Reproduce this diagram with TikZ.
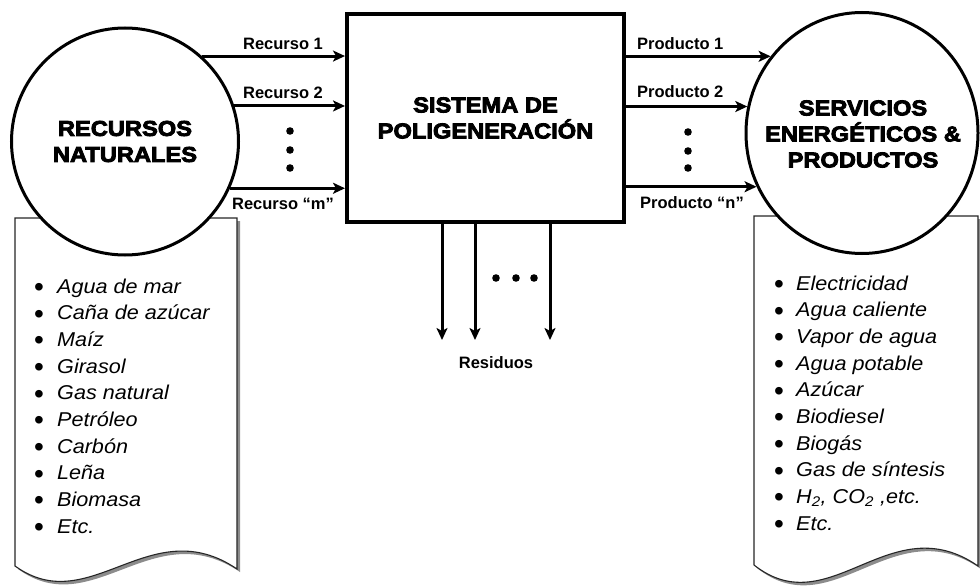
\documentclass[tikz,border=0pt]{standalone}
\usepackage{fontspec}
\setmainfont{Liberation Sans}
\newfontfamily\heavy{Liberation Sans Bold}[FakeStretch=1.1,FakeBold=4]
\newfontfamily\listfont{Liberation Sans}[FakeStretch=1.08]
\usetikzlibrary{arrows.meta,shapes.geometric}
\begin{document}
\begin{tikzpicture}[x=1pt,y=-1pt,
  conn/.style={line width=3pt,-{Stealth[length=12pt,width=11pt,inset=3pt]}},
  banner/.style={draw=black!85,line width=1.1pt,fill=white},
  bshadow/.style={fill=black!45,draw=none},
  title/.style={font=\heavy\fontsize{21.5}{26}\selectfont,align=center,inner sep=0pt},
  lbl/.style={font=\bfseries\fontsize{16.5}{19}\selectfont,inner sep=0pt},
  item/.style={anchor=base west,inner sep=0pt,font=\fontsize{20}{24}\selectfont},
  dot/.style={fill=black}]
\useasboundingbox (0,0) rectangle (980,586);
% banners (shadows then shapes)
\begin{scope}[shift={(3,3)}]
\path[bshadow] (15,218) -- (15,566) .. controls (90,620) and (150,510) .. (237,569) -- (237,218) -- cycle;
\path[bshadow] (754,216) -- (754,565) .. controls (830,625) and (890,505) .. (978,566) -- (978,216) -- cycle;
\end{scope}
\path[banner] (15,218) -- (15,566) .. controls (90,620) and (150,510) .. (237,569) -- (237,218) -- cycle;
\path[banner] (754,216) -- (754,565) .. controls (830,625) and (890,505) .. (978,566) -- (978,216) -- cycle;
% main nodes
\node[circle,draw,fill=white,line width=3pt,minimum size=227pt,inner sep=0pt] (L) at (125,141.5) {};
\node[title] (Lt) at (L.center) {RECURSOS\\NATURALES};
\node[ellipse,draw,fill=white,line width=3pt,minimum width=232pt,minimum height=241pt,inner sep=0pt] (R) at (862,133) {};
\node[title] (Rt) at (863,134) {SERVICIOS\\ENERGÉTICOS \&\\PRODUCTOS};
\node[draw,fill=white,line width=4pt,minimum width=277pt,minimum height=208pt,inner sep=0pt] (S) at (485.5,118) {};
\node[title] (St) at (S.center) {SISTEMA DE\\POLIGENERACIÓN};
% input arrows
\coordinate (l1) at (L.48);
\coordinate (l2) at (L.18);
\coordinate (l3) at (L.-24);
\draw[conn] (l1) -- (l1 -| S.west);
\draw[conn] (l2) -- (l2 -| S.west);
\draw[conn] (l3) -- (l3 -| S.west);
\node[lbl,anchor=base] (rl1) at (283,50) {Recurso 1};
\node[lbl,anchor=base] (rl2) at (283,99) {Recurso 2};
\node[lbl,anchor=base] (rl3) at (283,209) {Recurso “m”};
\fill[dot] (290,131) circle (3.8pt) (290,150) circle (3.8pt) (290,168) circle (3.8pt);
% output arrows
\coordinate (r1) at (R.140);
\coordinate (r2) at (R.167);
\coordinate (r3) at (R.207);
\draw[conn] (S.east |- r1) -- (r1);
\draw[conn] (S.east |- r2) -- (r2);
\draw[conn] (S.east |- r3) -- (r3);
\node[lbl,anchor=base west] (pl1) at (637,49) {Producto 1};
\node[lbl,anchor=base west] (pl2) at (637,97) {Producto 2};
\node[lbl,anchor=base west] (pl3) at (640,208) {Producto “n”};
\fill[dot] (688,132) circle (3.8pt) (688,151) circle (3.8pt) (688,168) circle (3.8pt);
% residues
\coordinate (w1) at (442,340);
\coordinate (w2) at (475,340);
\coordinate (w3) at (550,340);
\draw[conn] (S.south -| w1) -- (w1);
\draw[conn] (S.south -| w2) -- (w2);
\draw[conn] (S.south -| w3) -- (w3);
\fill[dot] (496,278) circle (3.8pt) (516,278) circle (3.8pt) (534,278) circle (3.8pt);
\node[lbl,anchor=base] (res) at (496,368) {Residuos};
% lists
\foreach \t [count=\i] in {Agua de mar, Caña de azúcar, Maíz, Girasol, Gas natural, Petróleo, Carbón, Leña, Biomasa, Etc.} {
  \node[item] (a\i) at (34,{293+26.67*(\i-1)}) {\makebox[23pt][l]{\raisebox{-3.5pt}{\fontsize{28}{24}\selectfont •}}{\listfont\itshape \t}};
}
\foreach \t [count=\i] in {Electricidad, Agua caliente, Vapor de agua, Agua potable, Azúcar, Biodiesel, Biogás, Gas de síntesis, {H\textsubscript{2}, CO\textsubscript{2} ,etc.}, Etc.} {
  \node[item] (b\i) at (774,{290+26.67*(\i-1)}) {\makebox[22pt][l]{\raisebox{-3.5pt}{\fontsize{28}{24}\selectfont •}}{\listfont\itshape \t}};
}
\end{tikzpicture}
\end{document}
